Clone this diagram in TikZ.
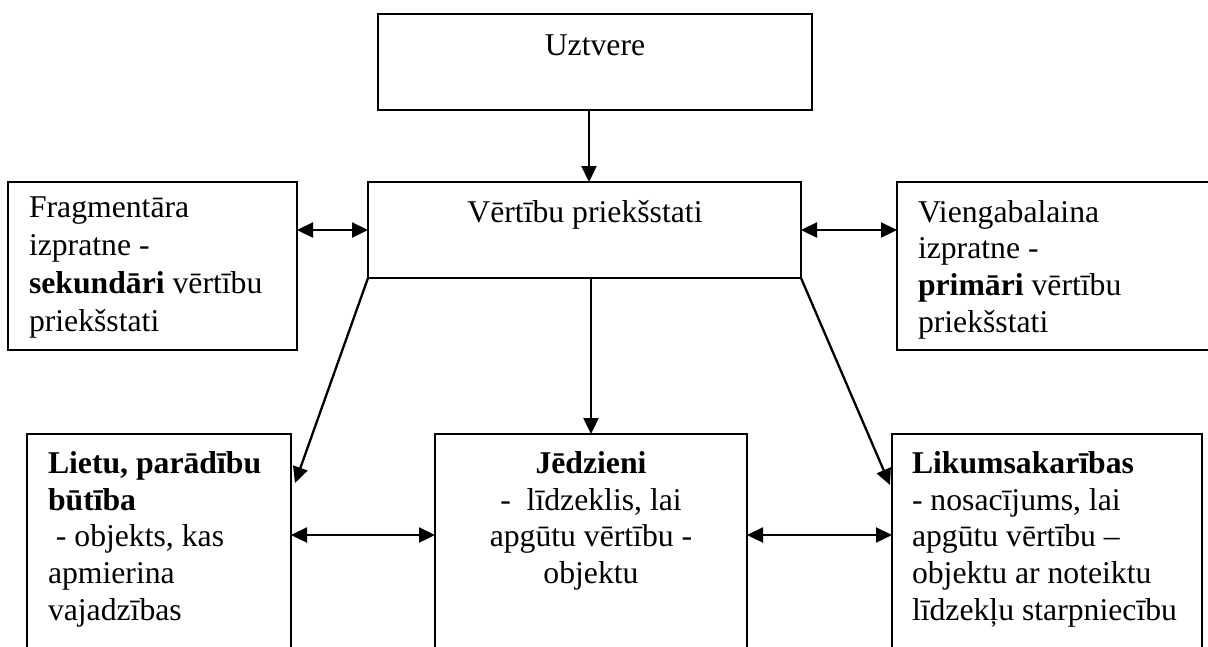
\documentclass[tikz,border=0pt]{standalone}
\usepackage{fontspec}
\setmainfont{Liberation Serif}
\usetikzlibrary{arrows.meta}
\newcommand\txtA{\fontsize{31.7pt}{38pt}\selectfont}
\newcommand\txtB{\fontsize{31.7pt}{36.7pt}\selectfont}
\tikzset{
  frame/.style={draw, line width=2.1pt, inner sep=0pt, outer sep=0pt, anchor=north west},
  lbl/.style={inner sep=0pt, outer sep=0pt, font=\txtA},
  arr/.style={line width=2.3pt, -{Triangle[length=16pt,width=15pt]}},
  darr/.style={line width=2.3pt, {Triangle[length=16pt,width=15pt]}-{Triangle[length=16pt,width=15pt]}},
}
\begin{document}
\begin{tikzpicture}[x=1pt, y=-1pt]
  \useasboundingbox (0,0) rectangle (1208,646);
  \clip (0,0) rectangle (1208,646);

  % frames
  \node[frame, minimum width=434pt, minimum height=96pt] (uz) at (378,14) {};
  \node[frame, minimum width=433pt, minimum height=96pt] (vp) at (368,182) {};
  \node[frame, minimum width=289pt, minimum height=168pt] (fr) at (8,182) {};
  \node[frame, minimum width=420pt, minimum height=168pt] (vg) at (897,182) {};
  \node[frame, minimum width=264pt, minimum height=240pt] (lb) at (27,434) {};
  \node[frame, minimum width=312pt, minimum height=240pt] (jd) at (435,434) {};
  \node[frame, minimum width=310pt, minimum height=240pt] (lk) at (892,434) {};

  % texts
  \node[lbl, anchor=base] (uzT) at (595,55) {Uztvere};
  \node[lbl, anchor=base] (vpT) at (585,222.7) {Vērtību priekšstati};
  \node[lbl, anchor=base west] (frT) at (29,217) {\parbox[t]{270pt}{\raggedright\txtA
    Fragmentāra\\ izpratne -\\ \textbf{sekundāri} vērtību\\ priekšstati}};
  \node[lbl, anchor=base west] (vgT) at (918,222) {\parbox[t]{285pt}{\raggedright\txtB
    Viengabalaina\\ izpratne -\\ \textbf{primāri} vērtību\\ priekšstati}};
  \node[lbl, anchor=base west] (lbT) at (48,473.3) {\parbox[t]{240pt}{\raggedright\txtB
    \textbf{Lietu, parādību}\\ \textbf{būtība}\\ \hspace*{0.25em}- objekts, kas\\ apmierina\\ vajadzības}};
  \node[lbl, anchor=base] (jdT) at (591,473.3) {\parbox[t]{300pt}{\centering\txtB
    \textbf{Jēdzieni}\\ -\ \ līdzeklis, lai\\ apgūtu vērtību -\\ objektu}};
  \node[lbl, anchor=base west] (lkT) at (912,473.3) {\parbox[t]{290pt}{\raggedright\txtB
    \textbf{Likumsakarības}\\ - nosacījums, lai\\ apgūtu vērtību –\\ objektu ar noteiktu\\ līdzekļu starpniecību}};

  % arrow ends on the side edges of the lower frames
  \coordinate (tipL) at (295,483);
  \coordinate (tipR) at (890,485);

  % connectors
  \draw[arr] ([xshift=4.5pt]vp.north |- uz.south) -- ([xshift=4.5pt]vp.north);
  \draw[darr] (vp.west -| fr.east) -- (vp.west);
  \draw[darr] (vp.east) -- (vp.east -| vg.west);
  \draw[arr] (vp.south -| jd.north) -- (jd.north);
  \draw[arr] (vp.south west) -- (tipL);
  \draw[arr] (vp.south east) -- (tipR);
  \draw[darr] ([yshift=-101pt]lb.north east) -- ([yshift=-101pt]jd.north west);
  \draw[darr] ([yshift=-101pt]jd.north east) -- ([yshift=-101pt]lk.north west);
\end{tikzpicture}
\end{document}
